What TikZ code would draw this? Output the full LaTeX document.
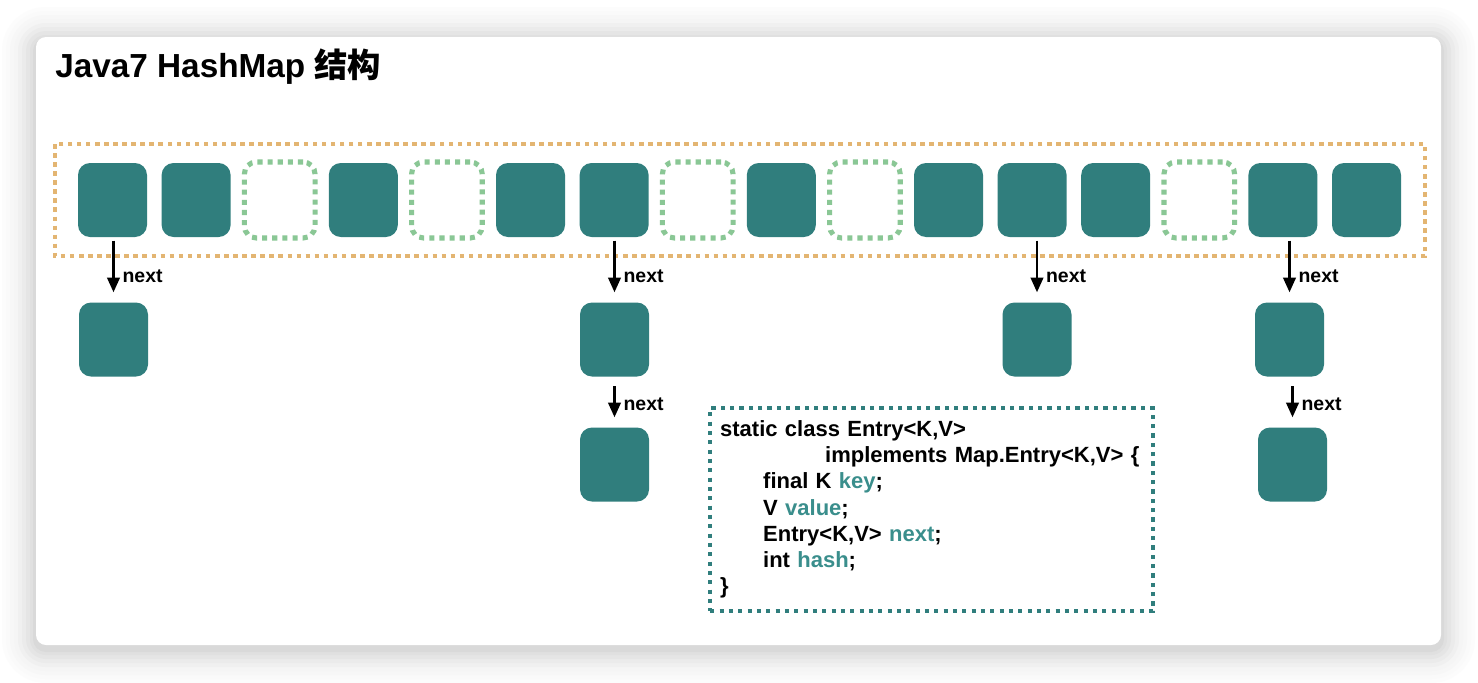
\documentclass[tikz,border=0pt]{standalone}
\usepackage{fontspec}
\setmainfont{Liberation Sans}
\newfontfamily\cjk{Noto Sans CJK SC}
\usepackage{xcolor}
\usetikzlibrary{arrows.meta}
\definecolor{bucketteal}{HTML}{307E7D}
\definecolor{slotgreen}{HTML}{8AC795}
\definecolor{tableorange}{HTML}{E3B572}
\definecolor{fieldteal}{HTML}{3A8E8C}

\begin{document}
\begin{tikzpicture}[x=0.75pt,y=0.75pt,yscale=-1,xscale=1,
        bucket/.style={fill=bucketteal, rounded corners=9pt, minimum width=51.75pt, minimum height=55.5pt, inner sep=0pt},
        emptyslot/.style={draw=slotgreen, line width=3.8pt, dash pattern=on 3.8pt off 3.8pt, rounded corners=9pt, minimum width=53pt, minimum height=57pt, inner sep=0pt},
        tableframe/.style={draw=tableorange, line width=3.4pt, dash pattern=on 3.4pt off 3.4pt},
        nextarrow/.style={line width=1.6pt, -{Triangle[length=11pt,width=9.5pt]}, shorten <=2.5pt, shorten >=7.5pt},
        nextlabel/.style={font=\bfseries\fontsize{14.6}{16}\selectfont, anchor=west, inner sep=1pt, xshift=5pt},
        entrycode/.style={draw=bucketteal, line width=3.2pt, dash pattern=on 3.2pt off 3.8pt, minimum width=332pt, minimum height=152pt, text width=317pt, inner xsep=7.5pt, align=left, font=\bfseries\fontsize{16.5}{19.7}\selectfont},
        titletext/.style={font=\bfseries\fontsize{25}{30}\selectfont, anchor=base west, inner sep=0pt}
    ]
        \useasboundingbox (0,0) rectangle (1478,682);
        \fill[white] (0,0) rectangle (1478,682);

        %Shape: Card shadow
        \foreach \r/\c in {34/1,30/2,26/3,22/4,18/6,14/8,10/10,6/12,3/15} {
            \fill[black!\c, rounded corners={7.5pt+0.75*\r pt}] (36-\r,41-\r) rectangle (1441+\r,649+\r);
        }
        %Shape: Card
        \fill[white, rounded corners=7.5pt] (36,37) rectangle (1441,645);

        % Text Node
        \node[titletext] (title) at (55,77) {Java7 HashMap {\cjk 结构}};

        %Shape: Table frame
        \draw[tableframe] (55,144) rectangle (1425,256);

        %Shape: Buckets
        \node[bucket] (b1) at (112.5,200) {};
        \node[bucket] (b2) at (196.1,200) {};
        \node[emptyslot] (b3) at (279.7,200) {};
        \node[bucket] (b4) at (363.3,200) {};
        \node[emptyslot] (b5) at (446.9,200) {};
        \node[bucket] (b6) at (530.5,200) {};
        \node[bucket] (b7) at (614.1,200) {};
        \node[emptyslot] (b8) at (697.7,200) {};
        \node[bucket] (b9) at (781.3,200) {};
        \node[emptyslot] (b10) at (864.9,200) {};
        \node[bucket] (b11) at (948.5,200) {};
        \node[bucket] (b12) at (1032.1,200) {};
        \node[bucket] (b13) at (1115.7,200) {};
        \node[emptyslot] (b14) at (1199.3,200) {};
        \node[bucket] (b15) at (1282.9,200) {};
        \node[bucket] (b16) at (1366.5,200) {};

        %Shape: Chained entries
        \node[bucket] (e1) at (113.5,339.5) {};
        \node[bucket] (e7) at (614.5,339.5) {};
        \node[bucket] (e12) at (1037,339.5) {};
        \node[bucket] (e15) at (1289.5,339.5) {};
        \node[bucket] (f7) at (614.5,464.5) {};
        \node[bucket] (f15) at (1292.5,464.5) {};

        %Straight Lines: next pointers
        \draw[nextarrow] (e1.north |- b1.south) -- (e1.north) node[nextlabel, pos=0.6] {next};
        \draw[nextarrow] (e7.north |- b7.south) -- (e7.north) node[nextlabel, pos=0.6] {next};
        \draw[nextarrow] (e12.north |- b12.south) -- (e12.north) node[nextlabel, pos=0.6] {next};
        \draw[nextarrow] (e15.north |- b15.south) -- (e15.north) node[nextlabel, pos=0.6] {next};
        \draw[nextarrow, shorten <=7pt] (f7.north |- e7.south) -- (f7.north) node[nextlabel, pos=0.55] {next};
        \draw[nextarrow, shorten <=7pt] (f15.north |- e15.south) -- (f15.north) node[nextlabel, pos=0.55] {next};

        % Text Node
        \node[entrycode] (entry) at (931.5,509.5) {static class Entry<K,V>\\
            \hspace*{78.75pt}implements Map.Entry<K,V> \{\\
            \hspace*{32.25pt}final K \textcolor{fieldteal}{key};\\
            \hspace*{32.25pt}V \textcolor{fieldteal}{value};\\
            \hspace*{32.25pt}Entry<K,V> \textcolor{fieldteal}{next};\\
            \hspace*{32.25pt}int \textcolor{fieldteal}{hash};\\
            \}};

    \end{tikzpicture}
\end{document}
